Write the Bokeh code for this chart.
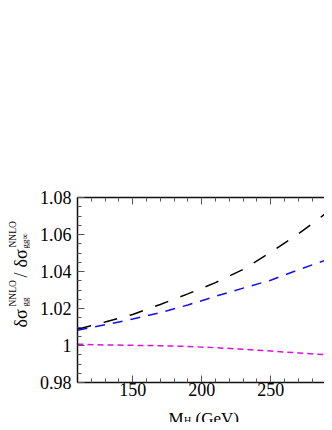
import math
from bokeh.plotting import figure
from bokeh.layouts import row, column
from bokeh.models import Range1d, LinearAxis, FixedTicker, CustomJSTickFormatter, Label
from bokeh.embed import file_html
from bokeh.resources import INLINE

# ---- data ----
mh = [110, 130, 150, 170, 190, 210, 230, 250, 270, 290, 300]
ratio_black = [1.0088, 1.0127, 1.0168, 1.0222, 1.0279, 1.0340, 1.0411, 1.0504, 1.0603, 1.0714, 1.0770]
ratio_blue = [1.0082, 1.0112, 1.0143, 1.0178, 1.0219, 1.0266, 1.0310, 1.0353, 1.0409, 1.0462, 1.0488]
ratio_magenta = [1.0007, 1.0003, 1.0001, 0.9999, 0.9995, 0.9988, 0.9980, 0.9970, 0.9960, 0.9950, 0.9945]

x_major = [150, 200, 250, 300]
x_minor = [110, 120, 130, 140, 160, 170, 180, 190, 210, 220, 230, 240, 260, 270, 280, 290]
y_major = [0.98, 1.0, 1.02, 1.04, 1.06, 1.08]
y_minor = [0.985, 0.99, 0.995, 1.005, 1.01, 1.015, 1.025, 1.03, 1.035,
           1.045, 1.05, 1.055, 1.065, 1.07, 1.075]

# ---- layout (pixels from the top-left of the whole layout) ----
PAGE_W, PAGE_H = 324, 422
YL_W = 30                 # strip holding the y title
MAIN_W = PAGE_W - YL_W
FRAME_L, FRAME_T, FRAME_B = 77, 197, 382
MAIN_BB = 20
MAIN_H = FRAME_B + MAIN_BB
XL_H = PAGE_H - MAIN_H
X0, X1 = 110, 289
Y0, Y1 = 0.98, 1.08
FONT = "Liberation Serif"

p = figure(width=MAIN_W, height=MAIN_H, x_range=Range1d(X0, X1), y_range=Range1d(Y0, Y1),
           output_backend="svg", toolbar_location=None,
           min_border_left=FRAME_L - YL_W, min_border_right=0,
           min_border_top=FRAME_T, min_border_bottom=MAIN_BB)
p.outline_line_color = None
p.xgrid.visible = False
p.ygrid.visible = False
p.background_fill_color = "white"
p.border_fill_color = "white"

fmt = CustomJSTickFormatter(code="return tick.toFixed(2).replace(/\\.?0+$/, '');")


def style_axis(ax, ticks, minor, labels=True):
    ax.ticker = FixedTicker(ticks=ticks, minor_ticks=minor)
    ax.axis_line_color = "#111111"
    ax.axis_line_width = 1.5
    ax.major_tick_in = 7
    ax.major_tick_out = 0
    ax.minor_tick_in = 4
    ax.minor_tick_out = 0
    ax.major_tick_line_color = "#555555"
    ax.minor_tick_line_color = "#555555"
    ax.major_tick_line_width = 1
    ax.minor_tick_line_width = 1
    if labels:
        ax.major_label_text_font = FONT
        ax.major_label_text_font_size = "18px"
        ax.major_label_text_color = "black"
    else:
        ax.major_label_text_font_size = "0px"
        ax.formatter = CustomJSTickFormatter(code="return '';")


style_axis(p.xaxis[0], x_major, x_minor)
p.xaxis[0].major_label_standoff = 0
style_axis(p.yaxis[0], y_major, y_minor)
p.yaxis[0].formatter = fmt
p.yaxis[0].major_label_standoff = 6

top = LinearAxis()
style_axis(top, x_major, x_minor, labels=False)
p.add_layout(top, "above")

p.line(mh, ratio_black, line_color="black", line_width=1.5, line_dash="14 13")
p.line(mh, ratio_blue, line_color="#1010ee", line_width=1.5, line_dash="10 8")
p.line(mh, ratio_magenta, line_color="#dd10dd", line_width=1.5, line_dash="6 4")


def text_strip(w, h):
    f = figure(width=w, height=h, x_range=Range1d(0, w), y_range=Range1d(0, h),
               x_axis_type=None, y_axis_type=None, title=None,
               output_backend="svg", toolbar_location=None,
               min_border=0, min_border_left=0, min_border_right=0,
               min_border_top=0, min_border_bottom=0)
    f.outline_line_color = None
    f.background_fill_color = "white"
    f.border_fill_color = "white"
    f.grid.visible = False
    return f


def txt(f, s, px, py, size, ox, oy, angle=0.0):
    # px, py: layout pixels; (ox, oy): position of the strip's canvas in the layout
    f.add_layout(Label(x=px - ox, y=py - oy, x_units="canvas", y_units="canvas",
                       text=s, text_font=FONT,
                       text_font_size=f"{size}px", text_color="black",
                       angle=angle, text_align="left", text_baseline="alphabetic"))


R = math.pi / 2
yl = text_strip(YL_W, MAIN_H)
# y title: δσ_gg^NNLO / δσ_gg∞^NNLO (rotated)
txt(yl, "δσ", 20.5, 327, 18, 0, 0, R)
txt(yl, "NNLO", 12, 306, 9.5, 0, 0, R)
txt(yl, "gg", 24, 306, 9, 0, 0, R)
txt(yl, "/", 20.5, 277, 18, 0, 0, R)
txt(yl, "δσ", 20.5, 267, 18, 0, 0, R)
txt(yl, "NNLO", 12, 247, 9.5, 0, 0, R)
txt(yl, "gg∞", 24, 248, 9, 0, 0, R)

xl = text_strip(PAGE_W, XL_H)
# x title: M_H (GeV)
txt(xl, "M", 168, 418, 17, 0, MAIN_H)
txt(xl, "H", 183.5, 419.6, 10, 0, MAIN_H)
txt(xl, "(GeV)", 195, 418, 17, 0, MAIN_H)

layout = column(row(yl, p, spacing=0), xl, spacing=0)
open("out.html", "w").write(file_html(layout, INLINE))
